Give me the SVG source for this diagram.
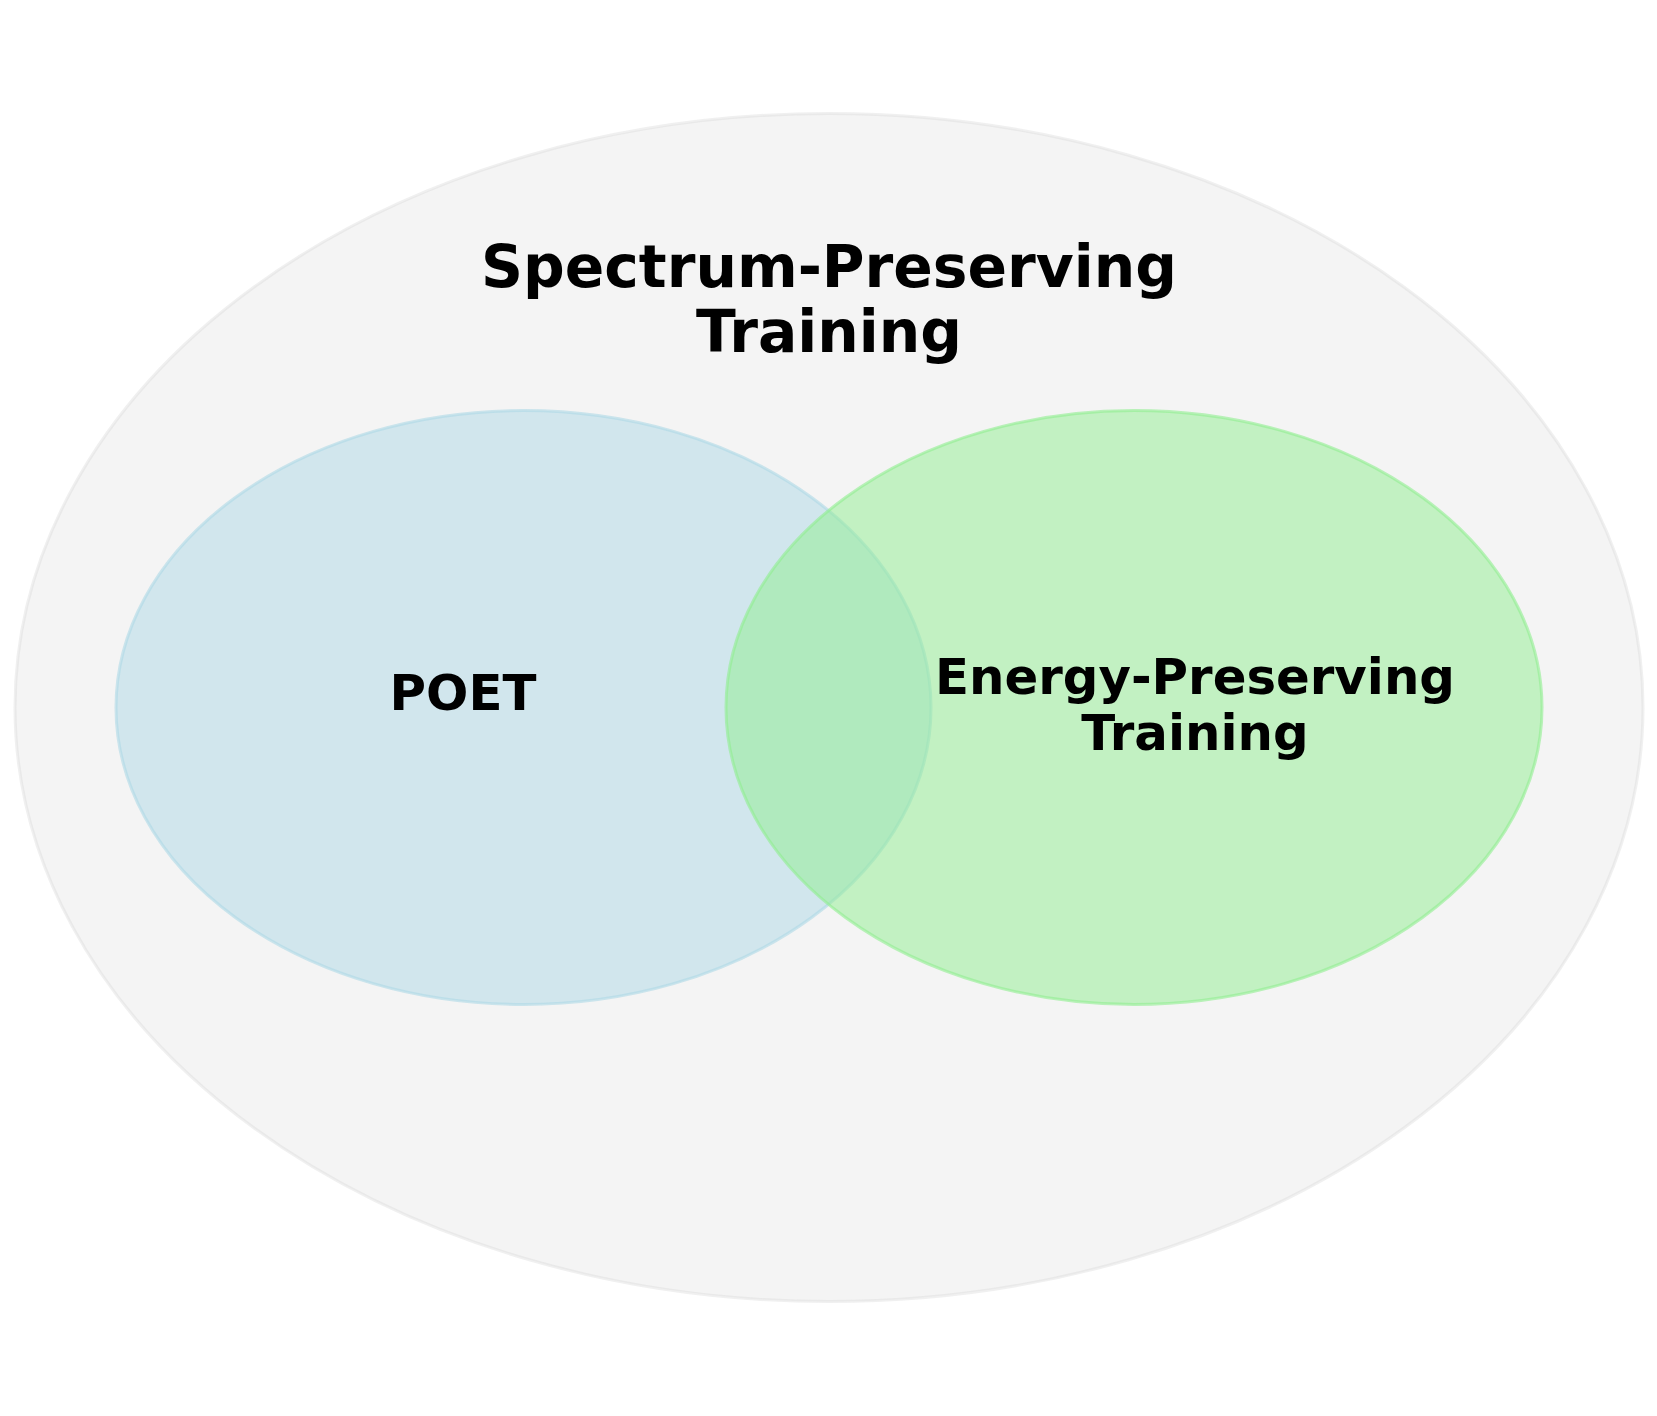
<svg xmlns="http://www.w3.org/2000/svg" width="1657" height="1416" viewBox="0 0 1657 1416">
<style>
.t{font-family:"DejaVu Sans",sans-serif;font-weight:bold;fill:#000;text-anchor:middle}
</style>
<rect width="1657" height="1416" fill="#fff"/>
<g id="spectrum">
<ellipse cx="829" cy="707.5" rx="814" ry="594" fill="#d3d3d3" fill-opacity="0.24" stroke="#d3d3d3" stroke-opacity="0.35" stroke-width="3"/>
<text class="t" x="829" y="287" font-size="58.3">Spectrum-Preserving</text>
<text class="t" x="829" y="352" font-size="58.3">Training</text>
</g>
<g id="poet">
<ellipse cx="523.5" cy="707.5" rx="407.5" ry="297" fill="#add8e6" fill-opacity="0.5" stroke="#add8e6" stroke-opacity="0.6" stroke-width="3"/>
</g>
<g id="energy">
<ellipse cx="1134" cy="707.5" rx="408" ry="297" fill="#90ee90" fill-opacity="0.5" stroke="#90ee90" stroke-opacity="0.6" stroke-width="3"/>
</g>
<g id="labels">
<text class="t" x="463" y="710" font-size="49.8">POET</text>
<text class="t" x="1195" y="694" font-size="49.8">Energy-Preserving</text>
<text class="t" x="1195" y="750" font-size="49.8">Training</text>
</g>
<g id="connectors"/>
</svg>
